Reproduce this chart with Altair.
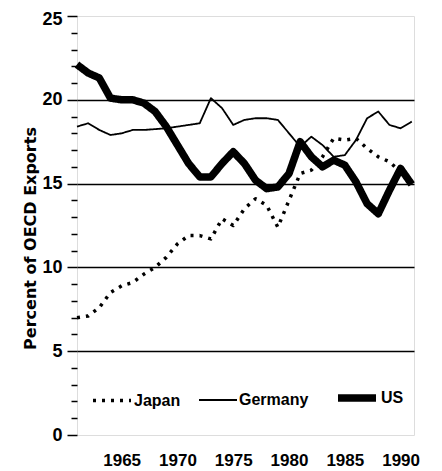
import altair as alt
import pandas as pd

years = list(range(1961, 1992))
countries = ["Japan", "Germany", "US"]

japan = [7.0, 7.1, 7.6, 8.5, 8.9, 9.1, 9.6, 10.0, 10.6, 11.4, 11.9, 11.9, 11.7, 12.9, 12.5, 13.5,
         14.1, 13.7, 12.4, 14.0, 15.6, 15.8, 16.6, 17.7, 17.6, 17.7, 17.1, 16.6, 16.3, 15.7, 15.2]
germany = [18.4, 18.6, 18.2, 17.9, 18.0, 18.2, 18.2, 18.25, 18.3, 18.4, 18.5, 18.6, 20.1, 19.5, 18.5, 18.8,
           18.9, 18.9, 18.8, 18.0, 17.2, 17.8, 17.3, 16.6, 16.7, 17.6, 18.9, 19.3, 18.5, 18.3, 18.7]
us = [22.1, 21.6, 21.3, 20.1, 20.0, 20.0, 19.8, 19.3, 18.4, 17.3, 16.2, 15.4, 15.4, 16.2, 16.9, 16.2,
      15.2, 14.7, 14.8, 15.6, 17.5, 16.6, 16.0, 16.4, 16.1, 15.1, 13.8, 13.2, 14.6, 15.9, 14.95]

x_ticks = [1965, 1970, 1975, 1980, 1985, 1990]
y_ticks = list(range(0, 26))

rows = []
for name, vals in zip(countries, [japan, germany, us]):
    for yr, v in zip(years, vals):
        rows.append({"year": yr, "share": v, "country": name})
df = pd.DataFrame(rows)

FONT = "Liberation Sans, Arial, sans-serif"
TFONT = "DejaVu Sans, sans-serif"

legend = alt.Legend(
    title=None, orient="none", legendX=14, legendY=359, direction="horizontal",
    symbolType="stroke", symbolSize=1444, labelFont=FONT, labelFontSize=16,
    labelFontWeight="bold", labelColor="black", columnPadding=14, labelOffset=1,
    padding=0,
)

chart = alt.Chart(df).mark_line(strokeJoin="round", strokeCap="butt").encode(
    x=alt.X("year:Q",
            scale=alt.Scale(domain=[1961, 1991.2], nice=False, zero=False),
            axis=alt.Axis(values=x_ticks, title=None, ticks=False, domain=False, grid=False,
                          format="d", labelFont=FONT, labelFontSize=17, labelFontWeight="bold",
                          labelColor="black", labelPadding=17)),
    y=alt.Y("share:Q",
            scale=alt.Scale(domain=[0, 25], nice=False),
            axis=alt.Axis(values=y_ticks, title="Percent of OECD Exports",
                          labelExpr="datum.value % 5 === 0 ? datum.label : ''",
                          labelOffset={"condition": {"test": "datum.value === 25", "value": 3}, "value": 0},
                          tickSize={"condition": {"test": "datum.value % 5 === 0", "value": 10}, "value": 6},
                          tickColor="black", tickWidth=1.5, domain=False,
                          grid=True, gridColor="black", gridWidth=1.3,
                          gridOpacity={"condition": {"test": "datum.value % 5 === 0 && datum.value > 0 && datum.value < 25", "value": 1}, "value": 0},
                          labelFont=FONT, labelFontSize=18, labelFontWeight="bold", labelColor="black",
                          labelPadding=5,
                          titleFont=TFONT, titleFontSize=16, titleFontWeight="bold", titleColor="black",
                          titleX=-47, titleY=222, titleAlign="center", titleBaseline="middle", titleAngle=270)),
    color=alt.Color("country:N", scale=alt.Scale(domain=countries, range=["black", "black", "black"]), legend=legend),
    strokeDash=alt.StrokeDash("country:N", scale=alt.Scale(domain=countries, range=[[3, 6], [1, 0], [1, 0]]), legend=legend),
    strokeWidth=alt.StrokeWidth("country:N", scale=alt.Scale(type="ordinal", domain=countries, range=[3.5, 1.8, 7.5]), legend=legend),
).properties(
    width=337, height=419,
    autosize=alt.AutoSizeParams(type="none"),
    padding={"left": 69, "top": 8, "right": 12, "bottom": 36},
).configure_view(stroke="black", strokeWidth=2.2).configure(background="white")

chart.save("out.html", embed_options={"renderer": "svg", "actions": False})
